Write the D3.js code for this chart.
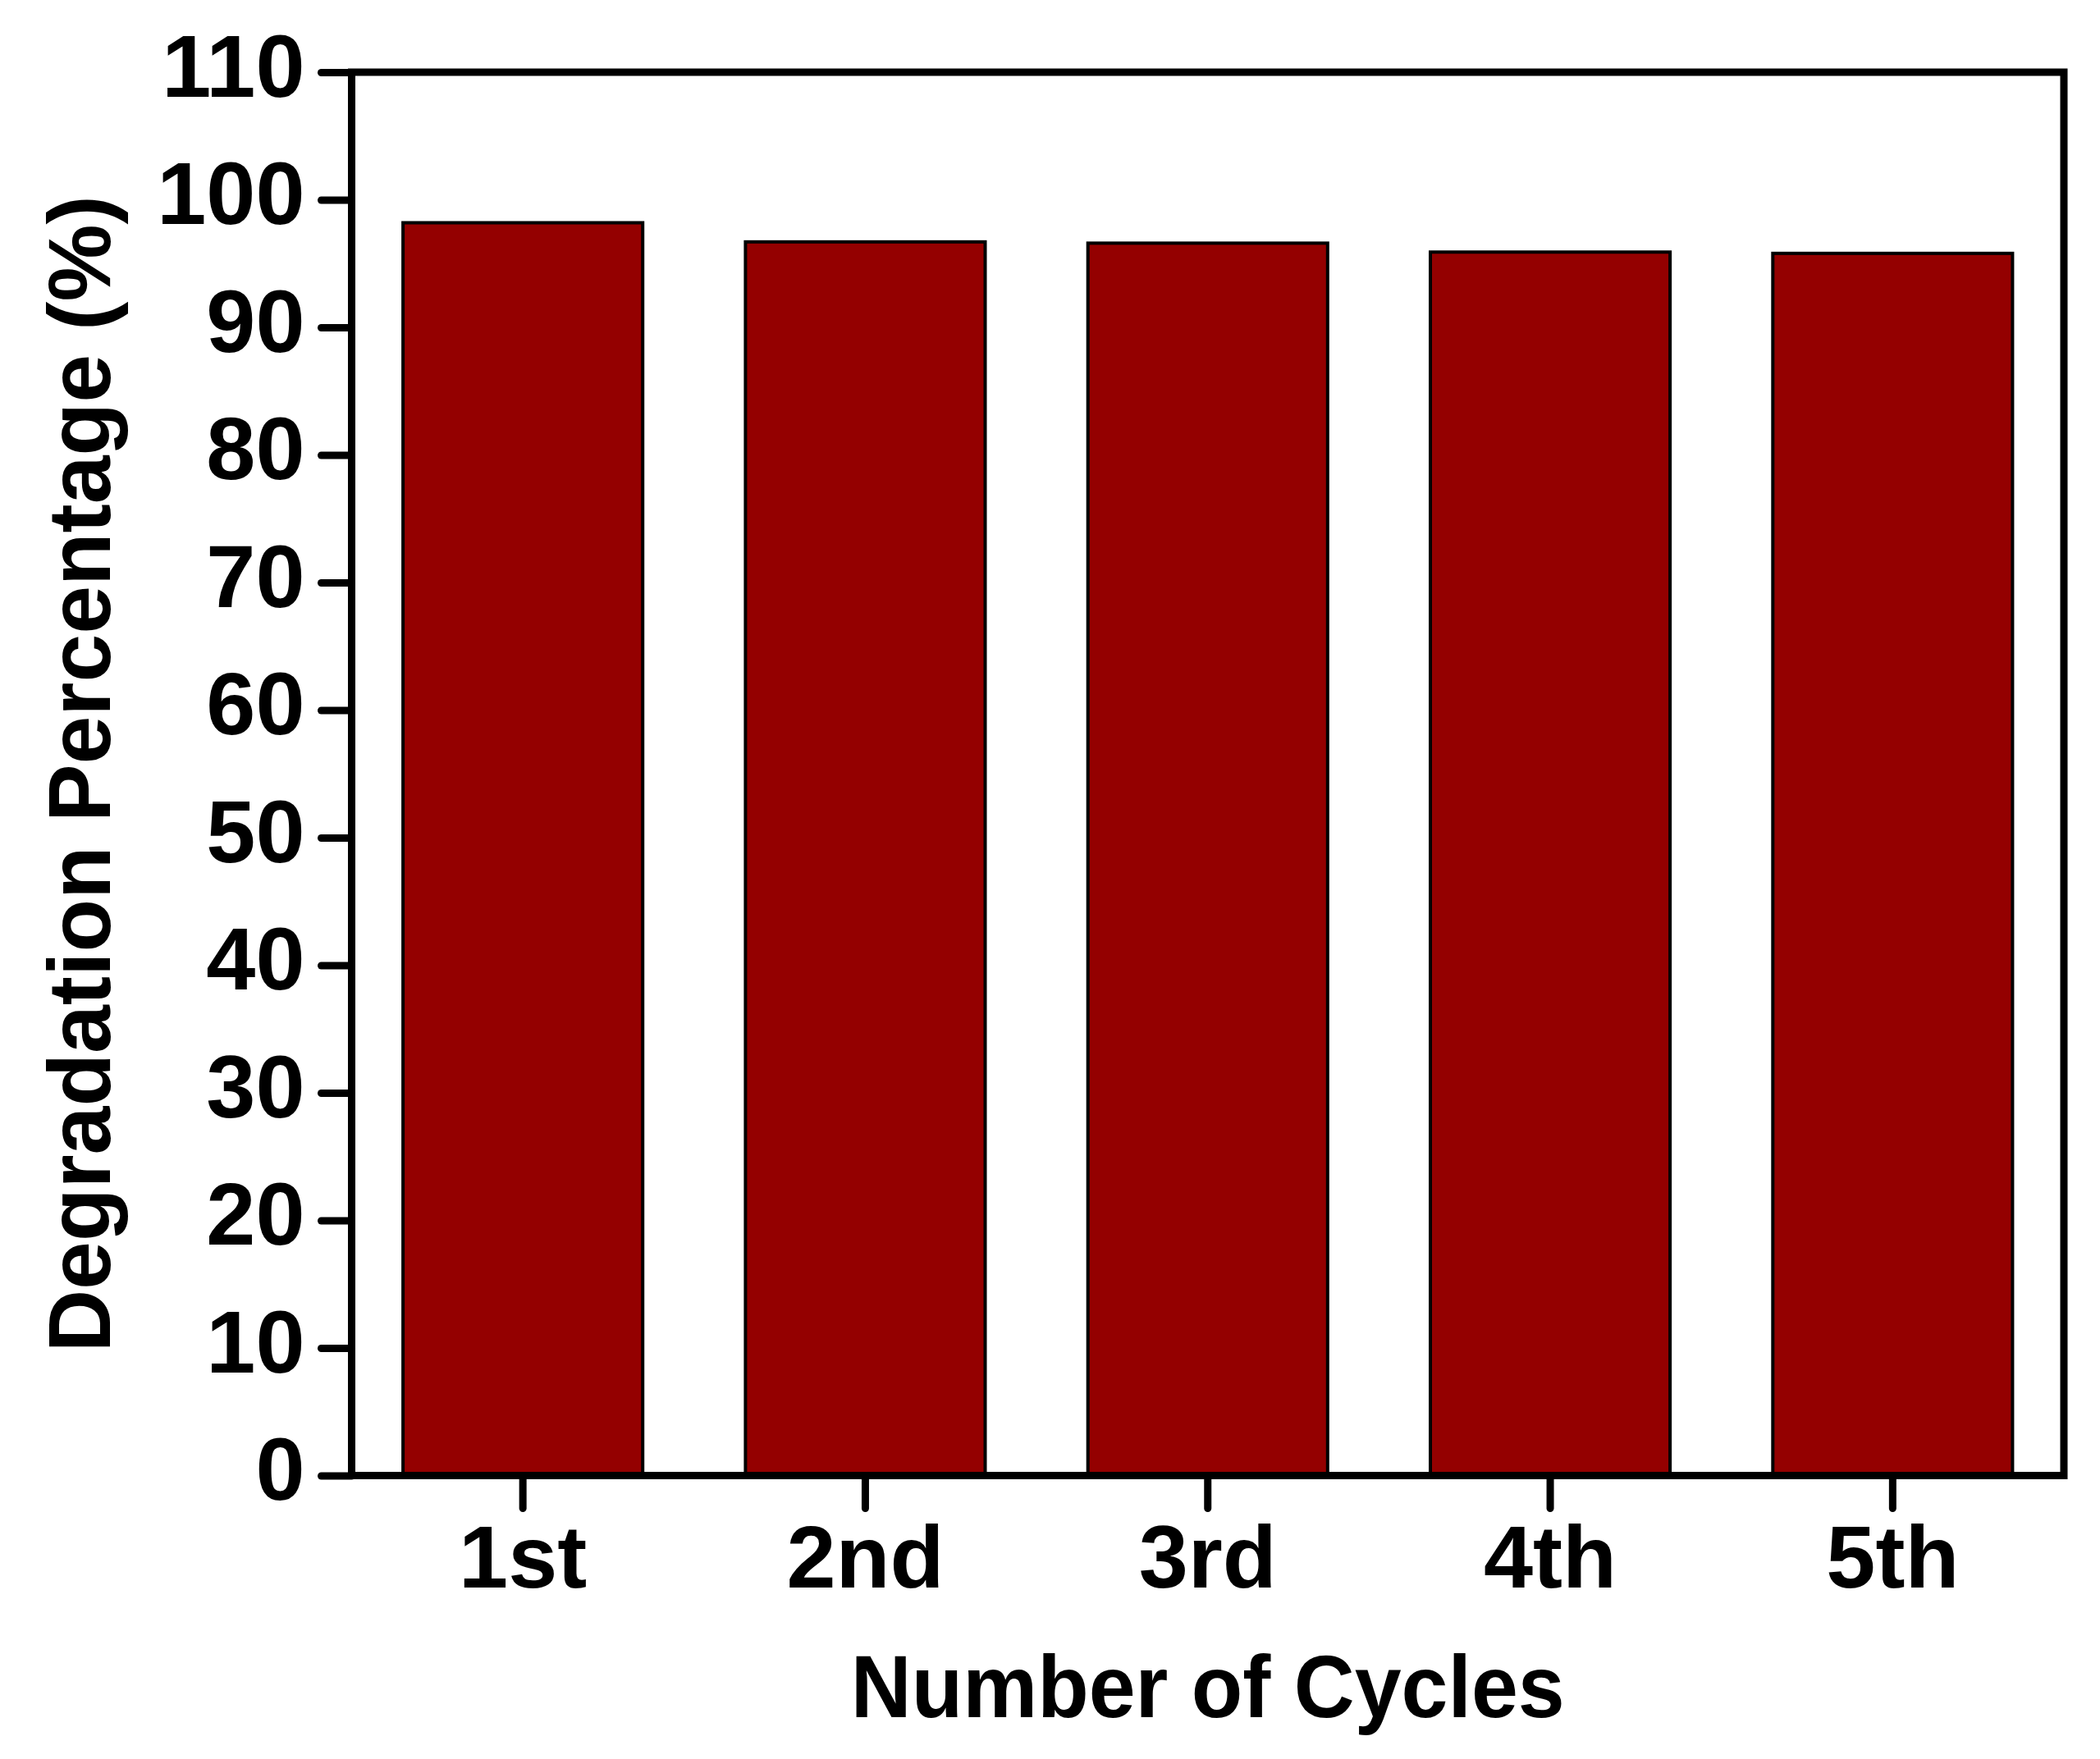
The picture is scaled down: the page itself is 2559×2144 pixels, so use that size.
<!DOCTYPE html>
<meta charset="utf-8">
<style>
body { margin: 0; background: white; }
text { font-family: "Liberation Sans", Arial, sans-serif; font-weight: bold; }
</style>
<body>
<script src="https://d3js.org/d3.v7.min.js"></script>
<script>
var width = 2559,
    height = 2144;

// data
var cycles = ["1st", "2nd", "3rd", "4th", "5th"];
var degradation = [98.2, 96.7, 96.6, 95.9, 95.8];
var yTicks = [0, 10, 20, 30, 40, 50, 60, 70, 80, 90, 100, 110];

// plot frame (window.top is taken, so no "top" here)
var plotLeft = 428.5, plotRight = 2515, plotTop = 88, plotBottom = 1798.5;

var svg = d3.select("body").append("svg")
    .attr("width", width)
    .attr("height", height);

var x = d3.scaleBand()
    .domain(cycles)
    .range([plotLeft, plotRight])
    .paddingInner(0.3)
    .paddingOuter(0.15);

var y = d3.scaleLinear()
    .domain([0, 110])
    .range([plotBottom, plotTop]);

// bars
svg.append("g").selectAll("rect")
    .data(degradation)
    .enter().append("rect")
    .attr("x", function(d, i) { return x(cycles[i]); })
    .attr("y", function(d) { return y(d); })
    .attr("width", x.bandwidth())
    .attr("height", function(d) { return y(0) - y(d); })
    .attr("fill", "#940000")
    .attr("stroke", "black")
    .attr("stroke-width", 4);

// axes
var yAxis = svg.append("g")
    .attr("transform", "translate(" + plotLeft + ",0)")
    .call(d3.axisLeft(y).tickValues(yTicks).tickSize(37).tickPadding(20));

var xAxis = svg.append("g")
    .attr("transform", "translate(0," + plotBottom + ")")
    .call(d3.axisBottom(x).tickSize(40).tickPadding(19.5));

[yAxis, xAxis].forEach(function(a) {
  a.select(".domain").remove();
  a.selectAll("line")
    .attr("stroke", "black")
    .attr("stroke-width", 9)
    .attr("stroke-linecap", "round");
  a.selectAll("text")
    .attr("fill", "black")
    .style("font-size", "108px")
    .attr("font-family", null);
});
yAxis.selectAll("text").attr("dy", "0.27em");

// frame
svg.append("rect")
    .attr("x", plotLeft)
    .attr("y", plotTop)
    .attr("width", plotRight - plotLeft)
    .attr("height", plotBottom - plotTop)
    .attr("fill", "none")
    .attr("stroke", "black")
    .attr("stroke-width", 9);

// titles
svg.append("text")
    .attr("x", (plotLeft + plotRight) / 2)
    .attr("y", 2093)
    .attr("text-anchor", "middle")
    .attr("textLength", 870)
    .attr("lengthAdjust", "spacingAndGlyphs")
    .style("font-size", "108px")
    .text("Number of Cycles");

svg.append("text")
    .attr("transform", "translate(134," + ((plotTop + plotBottom) / 2) + ") rotate(-90)")
    .attr("text-anchor", "middle")
    .attr("textLength", 1410)
    .attr("lengthAdjust", "spacingAndGlyphs")
    .style("font-size", "108px")
    .text("Degradation Percentage (%)");
</script>
</body>
